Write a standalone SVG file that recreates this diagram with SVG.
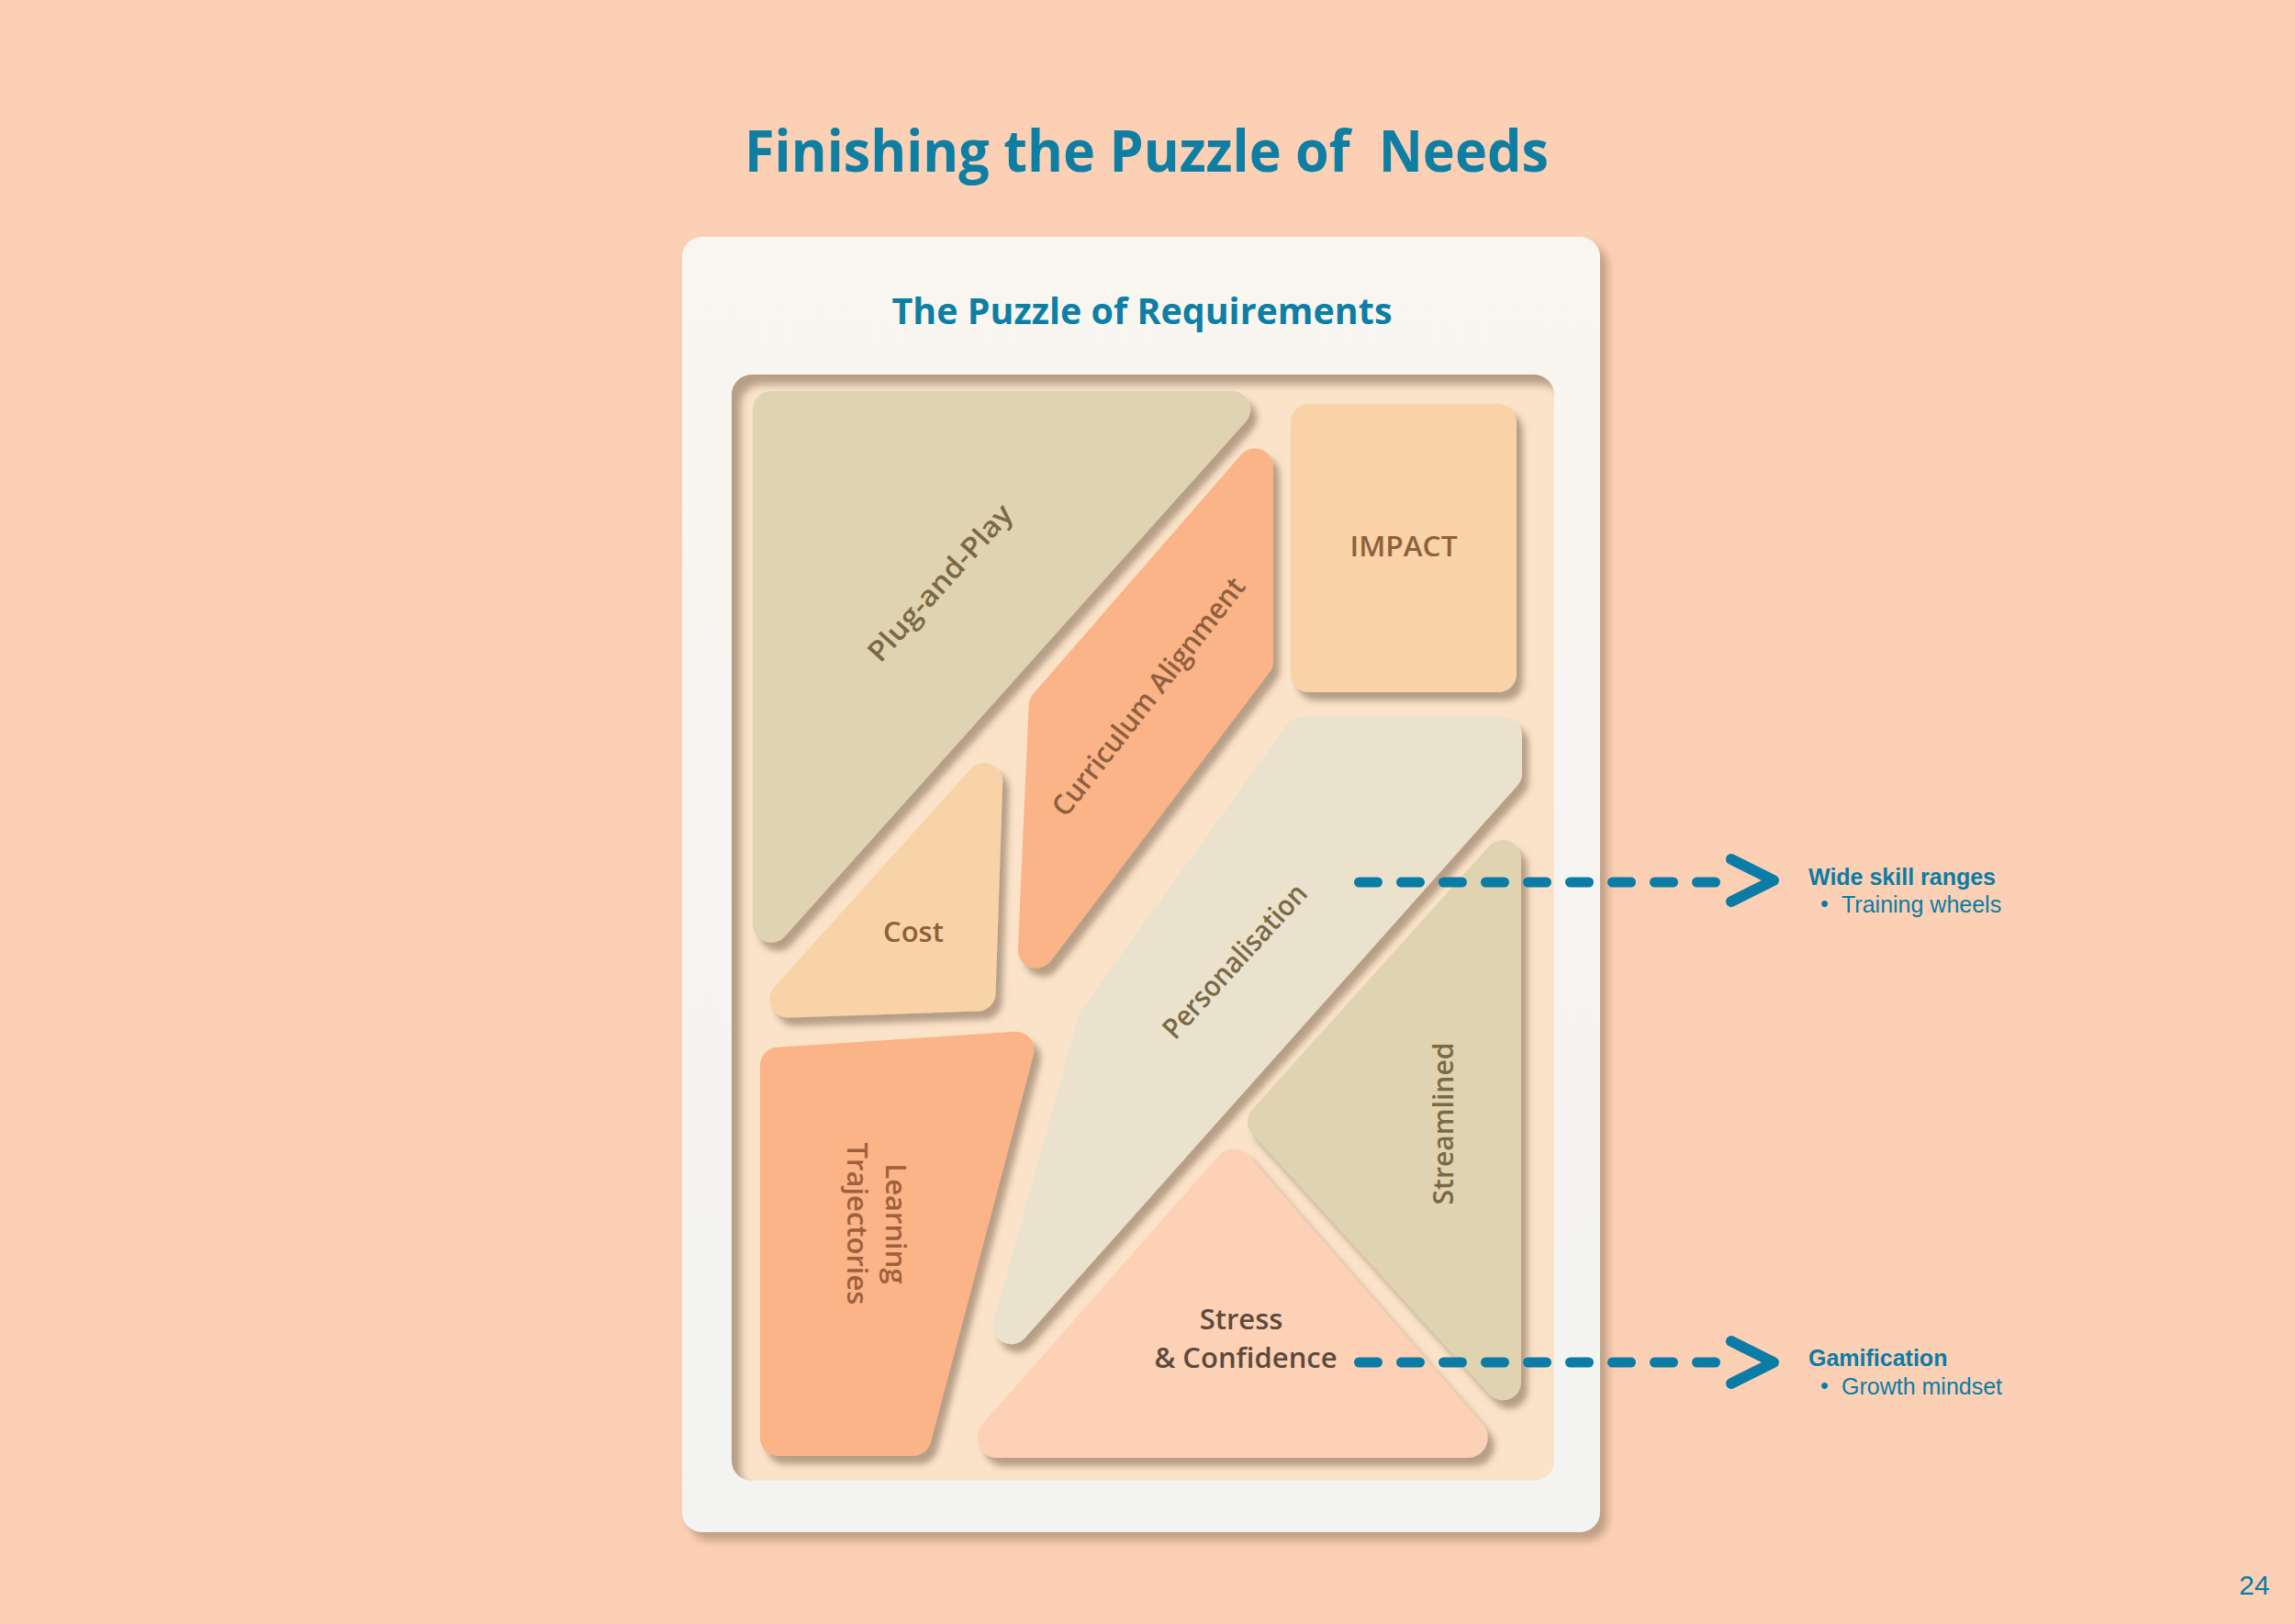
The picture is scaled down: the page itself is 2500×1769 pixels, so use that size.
<svg xmlns="http://www.w3.org/2000/svg" width="2500" height="1769" viewBox="0 0 2500 1769">
<defs>
<linearGradient id="cardGrad" x1="0" y1="0" x2="0" y2="1">
<stop offset="0" stop-color="#F9F6F0"/>
<stop offset="1" stop-color="#F3F3F2"/>
</linearGradient>
<filter id="cardShadow" x="-5%" y="-5%" width="115%" height="115%">
<feDropShadow dx="8" dy="9" stdDeviation="5" flood-color="#9A7C63" flood-opacity="0.6"/>
</filter>
<filter id="pieceShadow" x="-15%" y="-15%" width="140%" height="140%">
<feDropShadow dx="7" dy="9" stdDeviation="3.5" flood-color="#8C735F" flood-opacity="0.62"/>
</filter>
<filter id="innerBlur" x="-10%" y="-10%" width="120%" height="120%">
<feGaussianBlur stdDeviation="4"/>
</filter>
<clipPath id="trayClip"><rect x="797" y="408" width="896" height="1205" rx="22"/></clipPath>
<style>
.piece{filter:url(#pieceShadow);}
.lbl{font-family:"Open Sans","Noto Sans","Liberation Sans",sans-serif;font-weight:600;font-size:31px;text-anchor:middle;}
.olive{fill:#7A6945;}
.brown{fill:#8E603C;}
.rust{fill:#A0603C;}
.dark{fill:#5C4A3C;}
.dash{stroke:#0A7CA5;stroke-width:11;stroke-linecap:round;stroke-dasharray:20 26;fill:none;}
.chev{stroke:#0A7CA5;stroke-width:12;stroke-linecap:round;stroke-linejoin:round;fill:none;}
.note{font-family:"Liberation Sans",Arial,sans-serif;fill:#0A7CA5;font-size:25px;}
</style>
</defs>

<rect x="0" y="0" width="2500" height="1769" fill="#FCD0B4"/>

<text x="1249" y="187" text-anchor="middle" xml:space="preserve" textLength="876" lengthAdjust="spacingAndGlyphs" font-family="Open Sans, Noto Sans, sans-serif" font-weight="700" font-size="62" fill="#0E7EA3">Finishing the Puzzle of  Needs</text>

<g id="card">
<rect x="743" y="258" width="1000" height="1411" rx="22" fill="url(#cardGrad)" filter="url(#cardShadow)"/>
<text x="1244" y="353" text-anchor="middle" textLength="545" lengthAdjust="spacingAndGlyphs" font-family="Open Sans, Noto Sans, sans-serif" font-weight="700" font-size="40" fill="#0E7EA3">The Puzzle of Requirements</text>
</g>

<g id="tray">
<rect x="797" y="408" width="896" height="1205" rx="22" fill="#FAE3C8"/>
<g clip-path="url(#trayClip)">
<path fill-rule="evenodd" fill="#8C735F" fill-opacity="0.62" filter="url(#innerBlur)" d="M680,290 H1820 V1730 H680 Z M829,419 H1681 A22,22 0 0 1 1703,441 V1602 A22,22 0 0 1 1681,1624 H829 A22,22 0 0 1 807,1602 V441 A22,22 0 0 1 829,419 Z"/>
</g>
</g>

<g id="plug-and-play">
<path class="piece" fill="#E0D3B1" d="M840,426 L1342.3,426 A20,20 0 0 1 1357.2,459.3 L855,1020 A20,20 0 0 1 820,1006.6 L820,446 A20,20 0 0 1 840,426 Z"/>
<text class="lbl olive" transform="translate(1023,634) rotate(-48)" dominant-baseline="central" textLength="218" lengthAdjust="spacingAndGlyphs">Plug-and-Play</text>
</g>

<g id="curriculum-alignment">
<path class="piece" fill="#FBB388" d="M1387,508.5 L1387,720.3 A20,20 0 0 1 1383,732.3 L1144.8,1046.8 A20,20 0 0 1 1108.9,1033.9 L1120.7,768 A20,20 0 0 1 1125.6,755.7 L1351.9,495.4 A20,20 0 0 1 1387,508.5 Z"/>
<text class="lbl brown" transform="translate(1250,758) rotate(-52)" dominant-baseline="central" textLength="320" lengthAdjust="spacingAndGlyphs">Curriculum Alignment</text>
</g>

<g id="impact">
<rect class="piece" x="1406" y="440" width="246" height="314" rx="20" fill="#F9D2A7"/>
<text class="lbl brown" x="1529" y="606" textLength="117" lengthAdjust="spacingAndGlyphs">IMPACT</text>
</g>

<g id="cost">
<path class="piece" fill="#F9D3A8" d="M1092.2,851.8 L1084.6,1082.3 A20,20 0 0 1 1065.3,1101.6 L859,1108.4 A20,20 0 0 1 843.5,1075.1 L1057.3,837.7 A20,20 0 0 1 1092.2,851.8 Z"/>
<text class="lbl brown" x="995" y="1026">Cost</text>
</g>

<g id="personalisation">
<path class="piece" fill="#EBE2CE" d="M1418.2,781 L1638,781 A20,20 0 0 1 1658,801 L1658,842.4 A20,20 0 0 1 1652.9,855.7 L1116.4,1457.6 A20,20 0 0 1 1082.2,1438.9 L1175,1106.5 A20,20 0 0 1 1178.1,1100.1 L1402,789.3 A20,20 0 0 1 1418.2,781 Z"/>
<text class="lbl olive" transform="translate(1344,1046) rotate(-47.5)" dominant-baseline="central" textLength="216" lengthAdjust="spacingAndGlyphs">Personalisation</text>
</g>

<g id="learning-trajectories">
<path class="piece" fill="#FBB388" d="M846.7,1140.8 L1105.3,1123.8 A20,20 0 0 1 1125.9,1148.9 L1013.9,1571.1 A20,20 0 0 1 994.6,1586 L848,1586 A20,20 0 0 1 828,1566 L828,1160.7 A20,20 0 0 1 846.7,1140.8 Z"/>
<text class="lbl rust" font-weight="500" font-size="31" transform="translate(965,1333) rotate(90)"><tspan x="0" y="0">Learning</tspan><tspan x="0" y="42">Trajectories</tspan></text>
</g>

<g id="stress-confidence">
<path class="piece" fill="#FCD1B6" d="M1360.5,1258.9 L1615.3,1551.6 A22,22 0 0 1 1598.7,1588 L1086.6,1588 A22,22 0 0 1 1070.1,1551.5 L1327.4,1258.9 A22,22 0 0 1 1360.5,1258.9 Z"/>
<text class="lbl dark" font-size="30"><tspan x="1352" y="1448">Stress</tspan><tspan x="1357" y="1490">&amp; Confidence</tspan></text>
</g>

<g id="streamlined">
<path class="piece" fill="#E0D3B1" d="M1657,935.1 L1657,1505.3 A20,20 0 0 1 1622.2,1518.8 L1364.2,1235.4 A20,20 0 0 1 1364.1,1208.5 L1622.1,921.7 A20,20 0 0 1 1657,935.1 Z"/>
<text class="lbl olive" transform="translate(1583,1224) rotate(-90)" textLength="177" lengthAdjust="spacingAndGlyphs">Streamlined</text>
</g>

<g id="connectors">
<line class="dash" x1="1480.5" y1="961" x2="1868.5" y2="961"/>
<polyline class="chev" points="1886,936 1932,959 1886,982"/>
<line class="dash" x1="1480.5" y1="1484" x2="1868.5" y2="1484"/>
<polyline class="chev" points="1886,1461 1932,1484 1886,1507"/>
</g>

<g id="note-wide-skill">
<text class="note" x="1970" y="964" font-weight="700">Wide skill ranges</text>
<text class="note" x="1983" y="993">•</text>
<text class="note" x="2006" y="994">Training wheels</text>
</g>

<g id="note-gamification">
<text class="note" x="1970" y="1488" font-weight="700">Gamification</text>
<text class="note" x="1983" y="1518">•</text>
<text class="note" x="2006" y="1519">Growth mindset</text>
</g>

<text x="2439" y="1737" font-family="Liberation Sans, Arial, sans-serif" font-size="30" fill="#0A7CA5">24</text>
</svg>
